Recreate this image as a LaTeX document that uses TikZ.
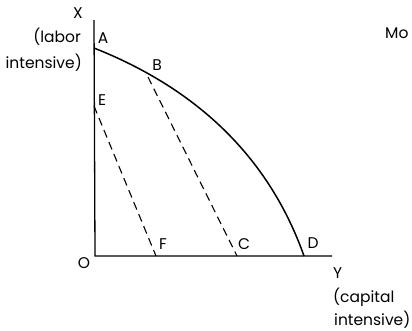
\documentclass[tikz,border=0pt]{standalone}
\usepackage{fontspec}
\setmainfont{Poppins}
\begin{document}
\begin{tikzpicture}[x=1pt,y=-1pt,
  lbl/.style={inner sep=0pt,font=\fontsize{15.5}{18}\selectfont},
  axis/.style={line width=1.3pt},
  frontier/.style={line width=1.5pt},
  ray/.style={line width=1.1pt,dash pattern=on 8pt off 5pt}]
\useasboundingbox (0,0) rectangle (412,330);
\coordinate (top) at (94,20);
\coordinate (O) at (95,256);
\coordinate (right) at (332,256);
\coordinate (A) at (94,48);
\coordinate (B) at (148,77);
\coordinate (D) at (304,256);
\coordinate (E) at (94,106);
\coordinate (F) at (156,256);
\coordinate (C) at (237,256);
\draw[axis] (top) -- (O) -- (right);
\draw[frontier] (A) .. controls (200,90) and (270,160) .. (D);
\draw[ray] (B) -- (C);
\draw[ray] (E) -- (F);
\node[lbl] (lX) at (78,13) {X};
\node[lbl] (lA) at (103,38) {A};
\node[lbl] (lB) at (157,65) {B};
\node[lbl] (lE) at (102,100) {E};
\node[lbl] (lF) at (163,244) {F};
\node[lbl] (lC) at (244,244) {C};
\node[lbl] (lD) at (313,243) {D};
\node[lbl] (lO) at (84,263) {O};
\node[lbl,anchor=east] (lab1) at (81,37) {(labor};
\node[lbl,anchor=east] (lab2) at (82,63) {intensive)};
\node[lbl,anchor=west] (lY) at (333,273) {Y};
\node[lbl,anchor=west] (cap1) at (333,297) {(capital};
\node[lbl,anchor=west] (cap2) at (334,320) {intensive)};
\node[lbl,anchor=west] (lMo) at (385,33) {Mo};
\end{tikzpicture}
\end{document}
